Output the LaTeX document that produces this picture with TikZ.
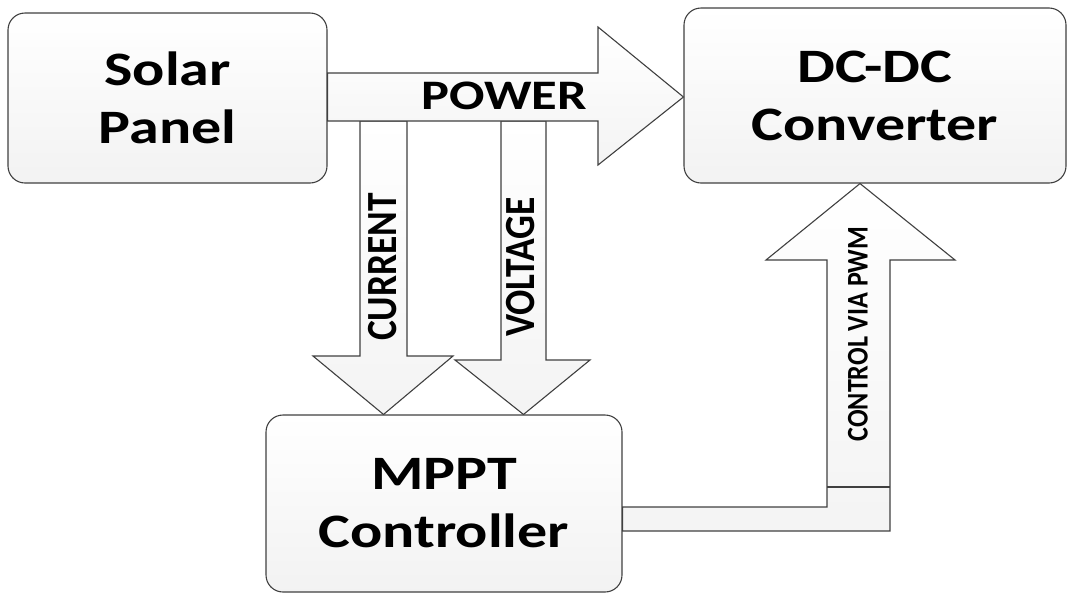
\documentclass[tikz,border=0pt]{standalone}
\usepackage{fontspec}
\newfontfamily\boxfont{Carlito}[FakeStretch=1.25]
\newfontfamily\upfont{Carlito}[FakeStretch=0.87]
\usepackage{tikz}
\usetikzlibrary{calc}
\definecolor{linegray}{RGB}{64,64,64}
\tikzset{
  block/.style={draw=linegray, line width=1.1pt, rounded corners=17pt, top color=white, bottom color=gray!10, align=center, inner sep=0pt, font=\boxfont\bfseries\fontsize{48}{58}\selectfont},
  fatarrow/.style={draw=linegray, line width=1.1pt, top color=white, bottom color=gray!9},
  flowtext/.style={inner sep=0pt, font=\boxfont\bfseries\fontsize{42}{42}\selectfont},
  uptext/.style={inner sep=0pt, rotate=90, font=\upfont\bfseries\fontsize{43}{43}\selectfont}
}

\begin{document}
\begin{tikzpicture}[x=1pt,y=-1pt]
\useasboundingbox (0,0) rectangle (1070,595);
\node[block, minimum width=319pt, minimum height=170pt] (solar) at (167.5,98) {Solar\\Panel};
\node[block, minimum width=382pt, minimum height=175pt, text width=382pt, xshift=7pt] (dcdc) at (868,95.5) {DC-DC\\Converter};
\node[block, minimum width=356pt, minimum height=177pt] (mppt) at (444,503.5) {MPPT\\Controller};
\draw[fatarrow] (360,121) -- (360,356) -- (313,356) -- (mppt.north -| 383.5,0) -- (453,356) -- (407,356) -- (407,121) -- cycle;
\draw[fatarrow] (501,121) -- (501,360) -- (455,360) -- (mppt.north -| 523.5,0) -- (590,360) -- (546,360) -- (546,121) -- cycle;
\draw[fatarrow] (solar.east |- 0,73) -- (598,73) -- (598,27) -- (dcdc.west |- 0,97) -- (598,165) -- (598,121) -- (solar.east |- 0,121) -- cycle;
\draw[fatarrow] (mppt.east |- 0,507) -- (827,507) -- (827,260) -- (766,260) -- (dcdc.south -| 860,0) -- (955,260) -- (890,260) -- (890,531) -- (mppt.east |- 0,531) -- cycle;
\draw[linegray, line width=1.1pt] (827,487) -- (890,487);
\node[flowtext] (power) at (504,96) {POWER};
\node[uptext] (current) at (383,267) {CURRENT};
\node[uptext] (voltage) at (521,267) {VOLTAGE};
\node[uptext, font=\upfont\bfseries\fontsize{30}{30}\selectfont] (pwm) at (858,334) {CONTROL VIA PWM};
\end{tikzpicture}
\end{document}
